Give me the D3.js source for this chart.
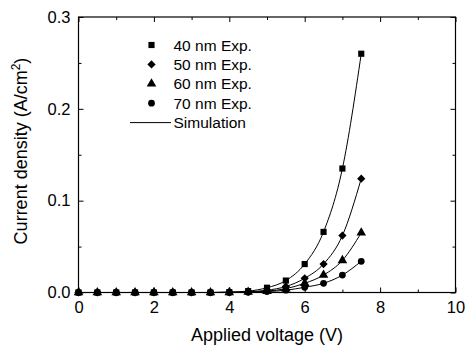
<!DOCTYPE html>
<html>
<head>
<meta charset="utf-8">
<script src="https://cdn.jsdelivr.net/npm/d3@7"></script>
<style>
  body { margin: 0; background: #fff; }
  svg text { font-family: Arial, "Liberation Sans", sans-serif; fill: #000; }
</style>
</head>
<body>
<svg id="chart" width="467" height="351"></svg>
<script>
const voltages = [0, 0.5, 1, 1.5, 2, 2.5, 3, 3.5, 4, 4.5, 5, 5.5, 6, 6.5, 7, 7.5];
const j40 = [0, 0, 0, 0, 0, 0, 0, 0, 0.0004, 0.0015, 0.0052, 0.013, 0.031, 0.066, 0.135, 0.26];
const j50 = [0, 0, 0, 0, 0, 0, 0, 0, 0.0002, 0.0008, 0.0025, 0.0065, 0.0155, 0.031, 0.062, 0.124];
const j60 = [0, 0, 0, 0, 0, 0, 0, 0, 0.0001, 0.0005, 0.0015, 0.0042, 0.010, 0.019, 0.035, 0.065];
const j70 = [0, 0, 0, 0, 0, 0, 0, 0, 0.0001, 0.0003, 0.001, 0.0025, 0.0057, 0.010, 0.019, 0.034];
const seriesNames = ["40 nm Exp.", "50 nm Exp.", "60 nm Exp.", "70 nm Exp."];
const seriesSymbols = [d3.symbolSquare, d3.symbolSquare, d3.symbolTriangle, d3.symbolCircle];
const symbolSizes = [38, 34, 40, 36];
const symbolRotate = [0, 45, 0, 0];
const xTicks = [0, 2, 4, 6, 8, 10];
const yTicks = [0, 0.1, 0.2, 0.3];

const series = [j40, j50, j60, j70].map((vals, i) => ({
  name: seriesNames[i],
  symbol: seriesSymbols[i],
  size: symbolSizes[i],
  rot: symbolRotate[i],
  values: vals.map((v, k) => ({ v: voltages[k], j: v }))
}));

const m = { top: 17, right: 11.5, bottom: 58.5, left: 78.5 };
const W = 467, H = 351;
const iW = W - m.left - m.right, iH = H - m.top - m.bottom;

const svg = d3.select("#chart");
const g = svg.append("g").attr("transform", `translate(${m.left},${m.top})`);

const x = d3.scaleLinear().domain([0, 10]).range([0, iW]);
const y = d3.scaleLinear().domain([0, 0.3]).range([iH, 0]);

// frame
g.append("rect").attr("width", iW).attr("height", iH)
  .attr("fill", "none").attr("stroke", "#000").attr("stroke-width", 1.2);

// ticks (inward, all four sides)
function styleAxis(ax) {
  ax.select(".domain").remove();
  ax.selectAll(".tick line").attr("stroke", "#000").attr("stroke-width", 1);
}
const xMinor = d3.range(1, 10, 2);
const yMinor = [0.05, 0.15, 0.25];

g.append("g").attr("transform", `translate(0,${iH})`)
  .call(d3.axisBottom(x).tickValues(xTicks).tickSize(-5).tickPadding(9).tickFormat(d3.format("d")))
  .call(styleAxis)
  .call(ax => ax.selectAll(".tick text").style("font-size", "16.5px"));
g.append("g").attr("transform", `translate(0,${iH})`)
  .call(d3.axisBottom(x).tickValues(xMinor).tickSize(-3).tickFormat(""))
  .call(styleAxis);
g.append("g")
  .call(d3.axisTop(x).tickValues(xTicks).tickSize(-5).tickFormat(""))
  .call(styleAxis);
g.append("g")
  .call(d3.axisTop(x).tickValues(xMinor).tickSize(-3).tickFormat(""))
  .call(styleAxis);

g.append("g")
  .call(d3.axisLeft(y).tickValues(yTicks).tickSize(-5).tickPadding(8).tickFormat(d3.format(".1f")))
  .call(styleAxis)
  .call(ax => ax.selectAll(".tick text").style("font-size", "16.5px"));
g.append("g")
  .call(d3.axisLeft(y).tickValues(yMinor).tickSize(-3).tickFormat(""))
  .call(styleAxis);
g.append("g").attr("transform", `translate(${iW},0)`)
  .call(d3.axisRight(y).tickValues(yTicks).tickSize(-5).tickFormat(""))
  .call(styleAxis);
g.append("g").attr("transform", `translate(${iW},0)`)
  .call(d3.axisRight(y).tickValues(yMinor).tickSize(-3).tickFormat(""))
  .call(styleAxis);

// simulation lines
const line = d3.line().x(d => x(d.v)).y(d => y(d.j)).curve(d3.curveMonotoneX);
series.forEach(s => {
  g.append("path").datum(s.values)
    .attr("d", line).attr("fill", "none").attr("stroke", "#000").attr("stroke-width", 1);
});

// experimental points
series.forEach(s => {
  g.selectAll(null).data(s.values).join("path")
    .attr("transform", d => `translate(${x(d.v)},${y(d.j)}) rotate(${s.rot})`)
    .attr("d", d3.symbol().type(s.symbol).size(s.size))
    .attr("fill", "#000");
});

// legend
const lg = svg.append("g").attr("transform", "translate(151.5,45)");
series.forEach((s, i) => {
  const row = lg.append("g").attr("transform", `translate(0,${i * 19.4})`);
  row.append("path").attr("d", d3.symbol().type(s.symbol).size(s.size))
    .attr("transform", `rotate(${s.rot})`).attr("fill", "#000");
  row.append("text").attr("x", 22).attr("y", 5.5).style("font-size", "15.5px").text(s.name);
});
const simRow = lg.append("g").attr("transform", `translate(0,${4 * 19.4})`);
simRow.append("line").attr("x1", -21.5).attr("x2", 19.5).attr("stroke", "#000").attr("stroke-width", 1);
simRow.append("text").attr("x", 22).attr("y", 5.5).style("font-size", "15.5px").text("Simulation");

// axis titles
svg.append("text")
  .attr("x", m.left + iW / 2).attr("y", 341)
  .attr("text-anchor", "middle").style("font-size", "18px")
  .text("Applied voltage (V)");

const yl = svg.append("text")
  .attr("transform", `translate(27,151) rotate(-90)`)
  .attr("text-anchor", "middle").style("font-size", "18px");
yl.append("tspan").text("Current density (A/cm");
yl.append("tspan").attr("dy", -7).style("font-size", "12px").text("2");
yl.append("tspan").attr("dy", 7).text(")");
</script>
</body>
</html>
